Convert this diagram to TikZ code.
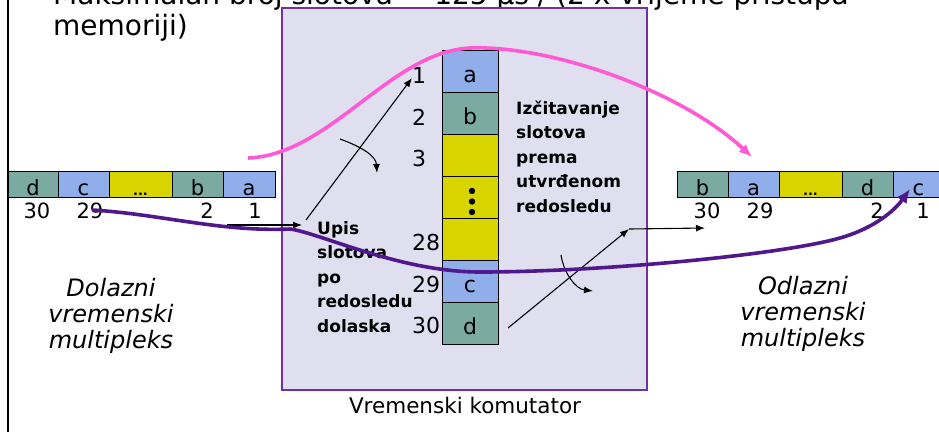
\documentclass[tikz,border=0pt]{standalone}
\usepackage{fontspec}
\setmainfont{DejaVu Sans}
\usepackage{tikz}
\usetikzlibrary{arrows.meta}

\definecolor{slotblue}{RGB}{143,174,234}
\definecolor{slotteal}{RGB}{122,170,162}
\definecolor{slotyellow}{RGB}{216,212,0}
\definecolor{switchfill}{RGB}{224,223,240}
\definecolor{switchline}{RGB}{112,48,160}
\definecolor{readpink}{RGB}{255,90,214}
\definecolor{writepurple}{RGB}{80,24,140}

\tikzset{
  slot/.style={draw, line width=0.9pt, inner sep=0pt, text height=22pt, text depth=0pt},
  rowslot/.style={slot, minimum width=51pt, minimum height=26pt, font=\fontsize{21}{21}\selectfont},
  memslot/.style={slot, minimum width=56pt, minimum height=42pt, font=\fontsize{22}{22}\selectfont},
  num/.style={inner sep=0pt, anchor=base, font=\fontsize{21}{21}\selectfont},
  memnum/.style={inner sep=0pt, anchor=base west, font=\fontsize{22}{22}\selectfont},
  note/.style={inner sep=0pt, anchor=base west, align=left, font=\fontsize{17}{24.5}\selectfont\bfseries},
  mux/.style={inner sep=0pt, anchor=base, align=center, font=\fontsize{24}{26}\selectfont\itshape},
  arr/.style={-{Latex[length=9pt,width=7pt]}, line width=1.1pt},
}

\begin{document}
\begin{tikzpicture}[x=1pt, y=-1pt]
  \clip (0,0) rectangle (939,432);

  % Heading, upper line runs off the top
  \node[inner sep=0pt, anchor=base west, align=left, font=\fontsize{28}{31}\selectfont] (title) at (53,35)
    {Maksimalan broj slotova = 125 µs / (2 x vrijeme pristupa\\memoriji)};

  % Left border
  \draw[line width=1.6pt] (8,0) -- (8,432);

  % Time switch
  \node[draw=switchline, fill=switchfill, line width=1.4pt, minimum width=365pt, minimum height=382pt] (switch) at (464.5,199) {};
  \node[inner sep=0pt, anchor=base, font=\fontsize{21.5}{21.5}\selectfont] (swname) at (465,413) {Vremenski komutator};

  % Memory slots
  \node[memslot, fill=slotblue]   (mem1)  at (470,71)  {a};
  \node[memslot, fill=slotteal]   (mem2)  at (470,113) {b};
  \node[memslot, fill=slotyellow] (mem3)  at (470,155) {};
  \node[memslot, fill=slotyellow] (memx)  at (470,197) {};
  \node[memslot, fill=slotyellow] (mem28) at (470,239) {};
  \node[memslot, fill=slotblue]   (mem29) at (470,281) {c};
  \node[memslot, fill=slotteal]   (mem30) at (470,323) {d};
  \fill (472,191) circle (3.2pt) (472,201.5) circle (3.2pt) (472,212) circle (3.2pt);

  \node[memnum] (n1)  at (412,83)  {1};
  \node[memnum] (n2)  at (412,125) {2};
  \node[memnum] (n3)  at (412,166) {3};
  \node[memnum] (n28) at (412,250) {28};
  \node[memnum] (n29) at (412,292) {29};
  \node[memnum] (n30) at (412,333) {30};

  % Incoming multiplex
  \node[rowslot, fill=slotteal, minimum width=50pt]   (in30) at (33,184)    {d};
  \node[rowslot, fill=slotblue]                       (in29) at (83.5,184)  {c};
  \node[rowslot, fill=slotyellow, minimum width=63pt] (inx)  at (140.5,184) {\fontsize{13}{13}\selectfont\bfseries ...};
  \node[rowslot, fill=slotteal]                       (in2)  at (197.5,184) {b};
  \node[rowslot, fill=slotblue, minimum width=52pt]   (in1)  at (249,184)   {a};
  \node[num] at (37,218)  {30};
  \node[num] at (90,218)  {29};
  \node[num] at (207,218) {2};
  \node[num] at (255,218) {1};

  % Outgoing multiplex
  \node[rowslot, fill=slotteal]                       (out30) at (702.5,184) {b};
  \node[rowslot, fill=slotblue]                       (out29) at (753.5,184) {a};
  \node[rowslot, fill=slotyellow, minimum width=63pt] (outx)  at (810.5,184) {\fontsize{13}{13}\selectfont\bfseries ...};
  \node[rowslot, fill=slotteal]                       (out2)  at (867.5,184) {d};
  \node[rowslot, fill=slotblue]                       (out1)  at (918.5,184) {c};
  \node[num] at (707,218) {30};
  \node[num] at (760,218) {29};
  \node[num] at (877,218) {2};
  \node[num] at (923,218) {1};

  % Labels
  \node[note] (wrnote) at (317,332) {Upis\\slotova\\po\\redosledu\\dolaska};
  \node[note] (rdnote) at (516,212) {Izčitavanje\\slotova\\prema\\utvrđenom\\redosledu};
  \node[mux] (inmux)  at (111,348) {Dolazni\\vremenski\\multipleks};
  \node[mux] (outmux) at (803,346) {Odlazni\\vremenski\\multipleks};

  % Writing in order of arrival
  \coordinate (wrIn)  at (227,225);
  \coordinate (wrMid) at (302,225);
  \coordinate (wrA)   at (306,220);
  \coordinate (wrB)   at (412,78);
  \draw[arr] (wrIn) -- (wrMid);
  \draw[arr] (wrA) -- (wrB);
  \draw[arr] (340,139) .. controls (362,147) and (376,156) .. (377,173);

  % Reading in fixed order
  \coordinate (rdA)   at (508,328);
  \coordinate (rdB)   at (629,229);
  \coordinate (rdOut) at (705,228);
  \draw[arr] (rdA) -- (rdB);
  \draw[arr] (rdB) -- (rdOut);
  \draw[arr] (561,255) .. controls (564,274) and (576,289) .. (593,291);

  % Slot a, read path
  \draw[readpink, line width=3.6pt, -{Latex[length=13pt,width=11pt]}]
    (248,158) .. controls (330,155) and (390,52) .. (470,48)
    .. controls (550,45) and (680,90) .. (752,157);

  % Slot c, write-to-read path
  \draw[writepurple, line width=3.6pt, -{Latex[length=14pt,width=12pt]}]
    (92,210) .. controls (160,214) and (220,232) .. (290,229)
    .. controls (320,233) and (400,272) .. (480,272)
    .. controls (600,272) and (780,255) .. (840,238)
    .. controls (875,228) and (895,210) .. (910,189);
\end{tikzpicture}
\end{document}
